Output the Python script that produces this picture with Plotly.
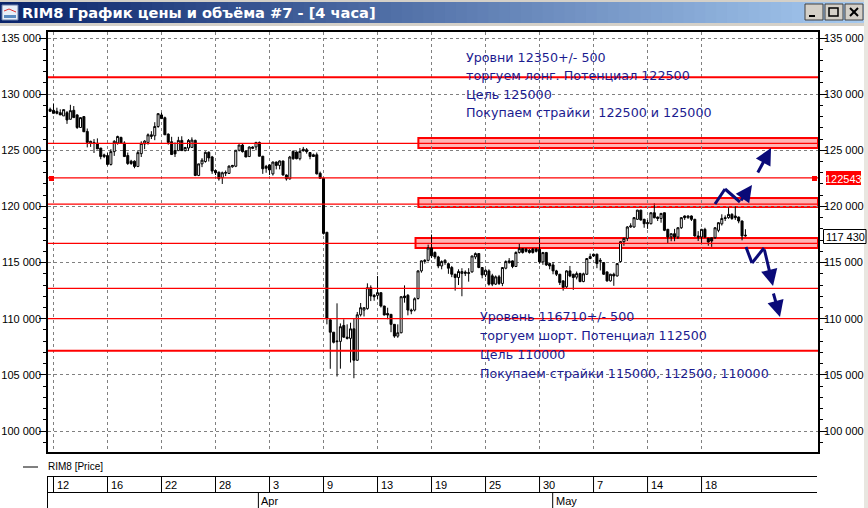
import plotly.graph_objects as go

W, H = 868, 508
PL, PR, PT, PB = 48, 818, 32, 452

opens = [128650,128560,128470,128350,128060,128350,127760,128560,128150,127030,128000,126680,125650,125700,125620,125200,124590,
124530,123740,124880,125650,126150,125650,124530,124030,124030,123560,124700,125560,125700,126230,126290,127120,
128150,127900,126440,125760,124970,124970,125880,124970,125200,125260,125880,122760,123790,124000,124820,124410,
123200,123050,122560,122950,122940,123530,123580,125000,125470,124940,124440,125290,125300,125700,124470,123570,
123700,122900,123950,123650,124050,122800,122450,124900,124850,124250,125100,125050,124800,124600,124600,122950,
122500,117700,109900,108800,107950,107980,109400,108360,108250,109100,106300,110350,110770,110900,112760,112080,
112080,112320,111130,110470,110390,109500,108450,108750,112020,112080,110770,110770,111800,
114260,115100,115200,116300,115900,115500,114700,115000,114900,114560,113960,113670,114030,114150,114030,114170,115500,
115800,114560,113900,114260,113820,113080,113730,113140,114500,115000,115150,114650,115900,116240,116200,116100,116200,116200,
116180,115060,115890,114910,114790,114260,113960,113370,112840,114260,113960,113700,114020,113310,113960,115530,115740,
115740,115100,115000,114170,113370,113960,113810,115090,116860,117160,118170,118170,118850,119670,118850,118460,118460,
119440,119050,118930,119440,117960,117300,117570,117280,118100,119150,119000,119150,118850,117370,117280,117960,
117160,117200,117220,117870,118450,119000,119000,119290,119150,119050,118700,117370]
highs = [128800,129170,128790,128650,128620,128500,129050,128940,128200,127950,128050,126940,125850,126000,126060,125200,124700,
124750,125100,125900,126300,126200,125800,124800,124150,124100,125000,125800,125900,126500,126700,127500,128300,
128350,128000,126500,126200,125700,126200,126250,125300,126000,126150,125950,123800,124300,124900,124900,124500,
123300,123100,123100,123200,123650,123700,125000,125500,125600,125000,125350,125350,125750,125780,124500,123700,
123750,124000,124000,124100,124050,122850,124500,125000,124900,125200,125300,125200,124800,124700,124800,123100,
122550,117700,110000,108800,111370,109580,109950,109500,109640,110000,110600,111400,111000,113150,112970,112200,
113800,112320,111150,110980,110400,109500,109500,112000,112970,112200,110900,111900,114300,
115200,115300,116600,117500,116000,115600,115200,115300,115000,114700,114000,114400,114500,114300,114500,115600,115900,
115850,114600,114400,114400,114000,113850,113900,114600,115200,115400,115200,116000,116700,116300,116300,116200,116300,116300,
117200,115950,115950,115000,115050,114350,114000,113400,114300,114700,114000,114200,114100,114100,115400,115800,115800,
115800,115400,115050,114200,114000,114100,114950,116900,117200,118250,118500,119050,119700,119700,118900,118800,119450,
120270,119100,119400,119450,118000,117600,118000,118150,119050,119200,119200,119200,118900,117800,118000,118100,
117200,117200,118150,118600,119300,119200,119900,119400,120000,119100,118750,117970]
lows = [128470,128290,128200,128150,128060,127350,127760,127910,126900,127030,126650,125260,125300,124760,125120,124200,124300,
123640,123640,124500,125500,125650,124440,123700,123700,123400,123500,124400,125100,125500,126000,125900,127000,
127800,126380,125500,124600,124400,124970,124970,124900,124950,125200,122700,122700,123500,123900,124000,122900,
122800,122300,122000,122700,122900,123450,123500,124900,124800,124400,124400,125100,125000,124470,122900,123000,
122800,122750,123300,123300,122750,122300,122400,124150,124200,124100,124900,124700,124200,124400,122850,122450,
117500,109500,105540,107800,104850,105550,108300,108150,106100,104700,106250,110200,110200,110800,111570,111600,
111720,111000,110300,109950,108800,108300,108300,108700,111430,110300,110400,110650,111700,
114100,114900,115100,115400,115300,114500,114400,114800,114000,113700,112500,113000,112000,113800,113300,114100,115300,
114500,113600,113700,112950,112900,113000,113000,112900,114400,114900,114500,114600,115800,115800,115900,115800,115800,115900,
114900,114800,114700,114400,113960,113800,113000,112500,112700,113700,112570,113500,113250,113250,113900,115300,115500,
114500,114300,113900,113300,113300,112930,113750,115000,116500,116920,118100,118100,118800,118750,118100,118000,118400,
118950,118700,118550,117800,116700,116900,116900,117100,118000,118800,118900,118700,117300,116920,116700,117200,
116500,116400,117100,117700,118300,118700,118900,118800,118800,118500,116980,117300]
closes = [128470,128290,128290,128150,128620,127700,128530,127910,127030,127910,126650,125700,125800,125600,125120,124440,124440,
123740,124880,125800,126230,125650,124440,123820,123820,123560,124790,125620,125820,126380,126380,127120,128260,
127820,126380,125700,124620,124680,125880,124970,125250,125880,125910,122760,123790,124120,124820,124320,123150,
123000,122470,123000,123020,123590,123650,125000,125470,124880,124400,125290,125180,125700,124470,123350,123400,
123250,123950,123650,124050,122800,122450,124400,124250,124250,124900,124950,124880,124450,124450,122900,122500,
117600,110000,108800,107900,108000,109290,108360,108250,109100,106300,110350,110980,110980,112760,112020,111960,
112320,111130,110330,110330,109500,108450,108750,111960,111870,110770,110700,111780,114260,
115150,115200,116300,115600,115500,114700,115090,115200,114500,113960,113670,114200,114200,114050,114100,115590,115800,
114560,113900,114320,113080,113080,113730,113140,114560,115090,115150,114650,115900,116240,115900,116000,115900,115900,116000,
115060,115890,114790,114700,114260,113960,113220,112780,114260,113810,113670,114020,113310,114000,115360,115360,115590,
114910,115200,113960,113370,113960,113810,114910,116860,117160,118170,118260,119000,119670,118790,118460,118550,119440,
118990,118930,119380,117870,117280,117570,117280,118100,119000,119000,119150,118850,117370,117280,117960,117280,
116830,116920,118100,118550,118930,118930,119290,118930,119000,118700,117370,117430]
assert len(opens) == len(highs) == len(lows) == len(closes)
candle_index = list(range(-1, len(opens) - 1))

y_ticks = [135000, 130000, 125000, 120000, 115000, 110000, 105000, 100000]
y_tick_labels = ["135\u00a0000", "130\u00a0000", "125\u00a0000", "120\u00a0000", "115\u00a0000", "110\u00a0000", "105\u00a0000", "100\u00a0000"]
date_ticks = [0, 16, 32, 48, 64, 80, 96, 112, 128, 144, 160, 176, 192]
date_labels = ["12", "16", "22", "28", "3", "9", "13", "19", "25", "30", "7", "14", "18"]
months = [("Apr", 60.7), ("May", 147.9)]

thick_levels = [131500, 107150]
thin_levels = [125620, 122543, 120200, 116710, 112700, 110000]
bands = [(125205, 126095, 108.1), (119950, 120751, 108.1), (116296, 117188, 107.26)]

text_top = ["Уровни 12350+/- 500", "торгуем лонг. Потенциал 122500", "Цель 125000", "Покупаем страйки  122500 и 125000"]
text_bottom = ["Уровень 116710+/- 500", "торгуем шорт. Потенциал 112500", "Цель 110000", "Покупаем страйки 115000, 112500, 110000"]
title = "RIM8 График цены и объёма #7 - [4 часа]"


def px(x):
    return (x - PL) / (PR - PL)


def py(y):
    return (PB - y) / (PB - PT)


def rect(x0, y0, x1, y1, fill=None, line=None, lw=1):
    return dict(type="rect", xref="paper", yref="paper", x0=px(x0), x1=px(x1), y0=py(y0), y1=py(y1),
                fillcolor=fill or "rgba(0,0,0,0)", line=dict(color=line or "rgba(0,0,0,0)", width=lw if line else 0),
                layer="above")


def seg(x0, y0, x1, y1, color="#000000", lw=1):
    return dict(type="line", xref="paper", yref="paper", x0=px(x0), x1=px(x1), y0=py(y0), y1=py(y1),
                line=dict(color=color, width=lw), layer="above")


def label(x, y, text, size=11, color="#000000", font="Liberation Sans", anchor="left"):
    return dict(xref="x domain", yref="y domain", x=px(x), y=py(y), text=text, showarrow=False, xanchor=anchor,
                yanchor="middle", font=dict(size=size, color=color, family=font), xshift=0, yshift=0)


shapes, annots = [], []

# window chrome
shapes.append(rect(0, 0, W, 26, fill="#d4d0c8"))
steps = 80
c0, c1 = (10, 36, 106), (166, 202, 240)
for k in range(steps):
    t = k / (steps - 1)
    col = "rgb(%d,%d,%d)" % tuple(round(a + (b - a) * t) for a, b in zip(c0, c1))
    shapes.append(rect(W * k / steps, 2, W * (k + 1) / steps + 1, 23, fill=col))
shapes.append(rect(864, 0, W, H, fill="#e8e6e0"))
shapes.append(rect(2, 5, 18, 20, fill="#e8eef8", line="#6a7fa8"))
shapes.append(seg(4, 11, 9, 9, "#e03030", 1))
shapes.append(seg(9, 9, 16, 12, "#e03030", 1))
shapes.append(rect(4, 15, 16, 18, fill="#5a8ac0"))
for bx in (805, 825, 845):
    shapes.append(rect(bx, 4, bx + 18, 20, fill="#d4d0c8", line="#404040"))
shapes.append(seg(809, 16, 815, 16, "#000000", 2))
shapes.append(rect(829, 8, 838, 16, line="#000000", lw=1.5))
shapes.append(seg(850, 8, 858, 16, "#000000", 2))
shapes.append(seg(858, 8, 850, 16, "#000000", 2))
annots.append(label(20, 13, title, size=14.6, color="#ffffff", font="DejaVu Sans"))
annots[-1]["text"] = "<b>" + title + "</b>"

# bands sit under the candles, level lines over them
for low, high, start in bands:
    shapes.append(dict(type="rect", xref="x", yref="y", x0=start, x1=226.5, y0=low, y1=high,
                       fillcolor="#ffb4b4", line=dict(color="#ff0000", width=2), layer="below"))
for lv in thick_levels:
    shapes.append(dict(type="line", xref="paper", yref="y", x0=0, x1=1, y0=lv, y1=lv,
                       line=dict(color="#ff0000", width=2), layer="above"))
for lv in thin_levels:
    shapes.append(dict(type="line", xref="paper", yref="y", x0=0, x1=1, y0=lv, y1=lv,
                       line=dict(color="#ff0000", width=1.3), layer="above"))
shapes.append(rect(49, 176, 54, 181, fill="#ff0000"))
shapes.append(rect(812, 176, 817, 181, fill="#ff0000"))

# right price tags
shapes.append(rect(826, 171, 861, 185, fill="#ff0000"))
annots.append(label(843.5, 178.5, "122543", color="#ffffff", anchor="center"))
shapes.append(rect(823.5, 229.5, 866, 243.5, fill="#ffffff", line="#000000"))
annots.append(label(845, 236.5, "117\u00a0430", anchor="center"))

# hand-drawn arrows
NAVY = "#0a0a78"
paths = [[(715, 204), (725, 189), (740, 202), (752, 185)], [(757, 174), (771, 148)],
         [(746, 247), (752, 263), (764, 248), (773, 286)], [(773, 292), (780, 317)]]
for pts in paths:
    for a, b in zip(pts[:-2], pts[1:-1]):
        shapes.append(seg(a[0], a[1], b[0], b[1], NAVY, 3))
    a, b = pts[-2], pts[-1]
    annots.append(dict(xref="x domain", yref="y domain", x=px(b[0]), y=py(b[1]),
                       ax=a[0] - b[0], ay=a[1] - b[1], showarrow=True, arrowhead=2, arrowsize=1.1, arrowwidth=3,
                       arrowcolor=NAVY, text=""))

# comments
BLUE = "#1b1b8f"
for txt, yy in zip(text_top, (57, 76, 94, 113)):
    annots.append(label(464, yy, txt, size=12.7, color=BLUE, font="DejaVu Sans"))
for txt, yy in zip(text_bottom, (316, 335, 354, 373)):
    annots.append(label(478, yy, txt, size=12.65, color=BLUE, font="DejaVu Sans"))

# legend + date table
shapes.append(seg(23, 467, 38, 467))
annots.append(label(46, 466, "RIM8 [Price]", size=10))
shapes.append(seg(47.5, 476.5, 817, 476.5))
shapes.append(seg(47.5, 492.5, 817, 492.5))
shapes.append(seg(47.5, 476, 47.5, H))
for tick, text in zip(date_ticks, date_labels):
    shapes.append(dict(type="line", xref="x", yref="paper", x0=tick, x1=tick, y0=py(476), y1=py(492),
                       line=dict(color="#000000", width=1), layer="above"))
    annots.append(dict(xref="x", yref="y domain", x=tick, y=py(484.5), text=text, showarrow=False, xanchor="left",
                       yanchor="middle", xshift=1, font=dict(size=11, color="#000000", family="Liberation Sans")))
for text, pos in months:
    shapes.append(dict(type="line", xref="x", yref="paper", x0=pos, x1=pos, y0=py(492), y1=py(H),
                       line=dict(color="#000000", width=1), layer="above"))
    annots.append(dict(xref="x", yref="y domain", x=pos, y=py(500.5), text=text, showarrow=False, xanchor="left",
                       yanchor="middle", xshift=1, font=dict(size=11, color="#000000", family="Liberation Sans")))

fig = go.Figure()
fig.add_trace(go.Candlestick(x=candle_index, open=opens, high=highs, low=lows, close=closes,
                             increasing=dict(line=dict(color="#000000", width=1), fillcolor="#ffffff"),
                             decreasing=dict(line=dict(color="#000000", width=1), fillcolor="#000000"),
                             whiskerwidth=0, showlegend=False, hoverinfo="skip"))
fig.add_trace(go.Scatter(x=date_ticks[:len(y_ticks)], y=y_ticks, yaxis="y2", mode="lines", opacity=0,
                         showlegend=False, hoverinfo="skip"))

yr = [98130, 135534]
common = dict(range=yr, tickvals=y_ticks, ticktext=y_tick_labels, ticks="outside", ticklen=7, tickwidth=1,
              tickcolor="#000000", showline=True, linecolor="#000000", linewidth=1.5, automargin=False,
              tickfont=dict(size=11, color="#000000", family="Liberation Sans"), zeroline=False,
              minor=dict(dtick=1000, ticks="outside", ticklen=3, tickcolor="#000000", tickwidth=1, showgrid=False))
fig.update_layout(
    width=W, height=H, autosize=False, margin=dict(l=PL, r=W - PR, t=PT, b=H - PB, pad=0),
    paper_bgcolor="#ffffff", plot_bgcolor="#ffffff", showlegend=False, boxgap=0.15,
    xaxis=dict(range=[-1.63, 226.5], tickvals=date_ticks, showticklabels=False, ticks="", showgrid=True,
               gridcolor="#808080", griddash="3px,3px", gridwidth=1, rangeslider=dict(visible=False), zeroline=False,
               showline=True, linecolor="#000000", linewidth=1.5, mirror=True, automargin=False),
    yaxis=dict(side="left", showgrid=True, gridcolor="#808080", griddash="3px,3px", gridwidth=1,
               ticklabelstandoff=-4, **common),
    yaxis2=dict(side="right", overlaying="y", anchor="x", showgrid=False, ticklabelstandoff=-5, **common),
    shapes=shapes, annotations=annots,
)
fig.write_html("out.html", config={"displayModeBar": False}, post_script="document.body.style.margin='0';")
